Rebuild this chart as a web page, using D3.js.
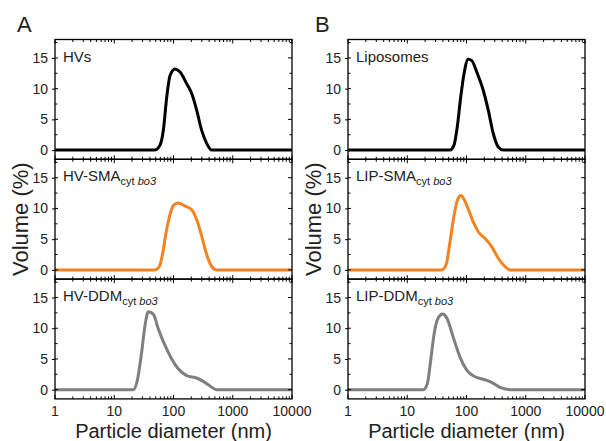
<!DOCTYPE html>
<html>
<head>
<meta charset="utf-8">
<script src="https://cdn.jsdelivr.net/npm/d3@7"></script>
<style>
  body { margin: 0; background: #fff; }
  text { font-family: Arial, "Liberation Sans", sans-serif; }
</style>
</head>
<body>
<div id="chart"></div>
<script>
// size distributions (diameter in nm, volume in %)
var hvD   = [1, 48.7, 59.2, 67.3, 76.8, 87.3, 106, 129, 167, 203, 246, 299, 363, 441, 10000];
var hvV   = [0, 0, 0.8, 3.2, 8.6, 12.1, 13.2, 12.7, 10.8, 9.2, 6.5, 3.2, 1.1, 0, 0];
var lipD  = [1, 52.7, 61.5, 69.9, 79.8, 90.7, 107, 122, 149, 192, 233, 283, 344, 418, 10000];
var lipV  = [0, 0, 0.8, 3.8, 8.6, 12.4, 14.8, 14.6, 12.7, 9.7, 6.5, 2.7, 0.5, 0, 0];
var hvSmaD  = [1, 48.7, 57.6, 65.7, 74.7, 87.3, 99.6, 120, 156, 203, 246, 299, 363, 441, 536, 10000];
var hvSmaV  = [0, 0, 0.55, 2.7, 6.0, 9.0, 10.5, 10.9, 10.4, 9.8, 8.2, 5.5, 2.5, 0.55, 0, 0];
var lipSmaD = [1, 38.1, 45.1, 52.7, 61.5, 69.9, 80.8, 90.7, 107, 130, 158, 205, 266, 344, 446, 542, 10000];
var lipSmaV = [0, 0, 0.8, 4.6, 8.8, 11.3, 12.1, 11.5, 9.9, 7.8, 6.2, 5.1, 3.8, 1.9, 0.55, 0, 0];
var hvDdmD  = [1, 21.0, 24.5, 29.0, 33.0, 37.6, 45.6, 55.4, 71.9, 93.3, 120, 167, 246, 318, 413, 536, 10000];
var hvDdmV  = [0, 0, 1.5, 6.1, 10.4, 12.7, 12.3, 9.9, 7.2, 5.0, 3.4, 2.3, 1.9, 1.35, 0.6, 0, 0];
var lipDdmD = [1, 18.7, 21.8, 24.9, 28.3, 33.4, 39.6, 46.3, 59.9, 77.6, 101, 139, 192, 266, 368, 542, 10000];
var lipDdmV = [0, 0, 0.96, 4.8, 9.0, 11.7, 12.3, 11.7, 8.5, 5.3, 3.2, 2.1, 1.7, 1.2, 0.37, 0, 0];

var xTicks = [1, 10, 100, 1000, 10000];
var yTicks = [0, 5, 10, 15];
var yMinor = [2.5, 7.5, 12.5, 17.5];

var panels = [
  {col: 0, row: 0, main: "HVs", sub: null, d: hvD, v: hvV, color: "#000000"},
  {col: 1, row: 0, main: "Liposomes", sub: null, d: lipD, v: lipV, color: "#000000"},
  {col: 0, row: 1, main: "HV-SMA", sub: true, d: hvSmaD, v: hvSmaV, color: "#f58220"},
  {col: 1, row: 1, main: "LIP-SMA", sub: true, d: lipSmaD, v: lipSmaV, color: "#f58220"},
  {col: 0, row: 2, main: "HV-DDM", sub: true, d: hvDdmD, v: hvDdmV, color: "#7f7f7f"},
  {col: 1, row: 2, main: "LIP-DDM", sub: true, d: lipDdmD, v: lipDdmV, color: "#7f7f7f"}
];

var W = 606, H = 441;
var colX = [55, 348];
var plotW = 237;
var top0 = 39.5, panelH = 119.8;

var svg = d3.select("#chart").append("svg")
    .attr("width", W)
    .attr("height", H);

var minorX = [];
[1, 10, 100, 1000].forEach(function(dec){
  for (var k = 2; k <= 9; k++) minorX.push(dec * k);
});

panels.forEach(function(p){
  var x0 = colX[p.col];
  var y0 = top0 + p.row * panelH;
  var g = svg.append("g").attr("transform", "translate(" + x0 + "," + y0 + ")");

  var x = d3.scaleLog().domain([1, 10000]).range([0, plotW]);
  var y = d3.scaleLinear().domain([-1.5, 18]).range([panelH, 0]);

  // data line
  var pts = p.d.map(function(d, i){ return [d, p.v[i]]; });
  var line = d3.line()
      .x(function(d){ return x(d[0]); })
      .y(function(d){ return y(d[1]); })
      .curve(d3.curveMonotoneX);
  g.append("path").datum(pts)
      .attr("d", line)
      .attr("fill", "none")
      .attr("stroke", p.color)
      .attr("stroke-width", 3)
      .attr("stroke-linejoin", "round");

  // frame
  g.append("rect")
      .attr("x", 0).attr("y", 0)
      .attr("width", plotW).attr("height", panelH)
      .attr("fill", "none")
      .attr("stroke", "#000")
      .attr("stroke-width", 1.3);

  // y ticks (left crossing, right inward)
  var yAx = d3.axisLeft(y).tickValues(yTicks).tickSize(3).tickPadding(4);
  var ya = g.append("g").call(yAx);
  ya.select(".domain").remove();
  ya.selectAll("text").attr("font-size", "14px").attr("fill", "#222")
    .style("font-family", "Arial, 'Liberation Sans', sans-serif");
  g.selectAll(".ymaj").data(yTicks).enter().append("line")
      .attr("x1", 0).attr("x2", 3)
      .attr("y1", function(d){ return y(d); }).attr("y2", function(d){ return y(d); })
      .attr("stroke", "#000");
  g.selectAll(".ymajr").data(yTicks).enter().append("line")
      .attr("x1", plotW).attr("x2", plotW - 4)
      .attr("y1", function(d){ return y(d); }).attr("y2", function(d){ return y(d); })
      .attr("stroke", "#000");
  g.selectAll(".ymin").data(yMinor).enter().append("line")
      .attr("x1", 0).attr("x2", 2.5)
      .attr("y1", function(d){ return y(d); }).attr("y2", function(d){ return y(d); })
      .attr("stroke", "#000");
  g.selectAll(".yminr").data(yMinor).enter().append("line")
      .attr("x1", plotW).attr("x2", plotW - 2.5)
      .attr("y1", function(d){ return y(d); }).attr("y2", function(d){ return y(d); })
      .attr("stroke", "#000");

  // x ticks inward on top and bottom
  [0, panelH].forEach(function(yy){
    var dir = yy === 0 ? 1 : -1;
    g.selectAll(null).data(xTicks).enter().append("line")
        .attr("x1", function(d){ return x(d); }).attr("x2", function(d){ return x(d); })
        .attr("y1", yy).attr("y2", yy + dir * 4)
        .attr("stroke", "#000");
    g.selectAll(null).data(minorX).enter().append("line")
        .attr("x1", function(d){ return x(d); }).attr("x2", function(d){ return x(d); })
        .attr("y1", yy).attr("y2", yy + dir * 2.5)
        .attr("stroke", "#000");
  });

  // x tick labels on bottom row
  if (p.row === 2) {
    g.selectAll(null).data(xTicks).enter().append("text")
        .attr("x", function(d){ return x(d); })
        .attr("y", panelH + 17)
        .attr("text-anchor", "middle")
        .attr("font-size", "14px")
        .attr("fill", "#222")
        .text(function(d){ return d; });
    g.append("text")
        .attr("x", plotW / 2)
        .attr("y", panelH + 39)
        .attr("text-anchor", "middle")
        .attr("font-size", "20px")
        .attr("fill", "#222")
        .text("Particle diameter (nm)");
  }

  // sample label
  var t = g.append("text")
      .attr("x", 8).attr("y", 22)
      .attr("font-size", "15px")
      .attr("fill", "#222");
  t.append("tspan").text(p.main);
  if (p.sub) {
    t.append("tspan").attr("font-size", "11px").attr("dy", 4).text("cyt ");
    t.append("tspan").attr("font-size", "11px").attr("font-style", "italic").text("bo3");
  }
});

// y axis titles
colX.forEach(function(cx){
  svg.append("text")
      .attr("transform", "translate(" + (cx - 27) + "," + (top0 + panelH * 1.5) + ") rotate(-90)")
      .attr("text-anchor", "middle")
      .attr("font-size", "22px")
      .attr("fill", "#222")
      .text("Volume (%)");
});

// panel letters
svg.append("text").attr("x", 17).attr("y", 32).attr("font-size", "22px").attr("fill", "#222").text("A");
svg.append("text").attr("x", 315).attr("y", 32).attr("font-size", "22px").attr("fill", "#222").text("B");
</script>
</body>
</html>
